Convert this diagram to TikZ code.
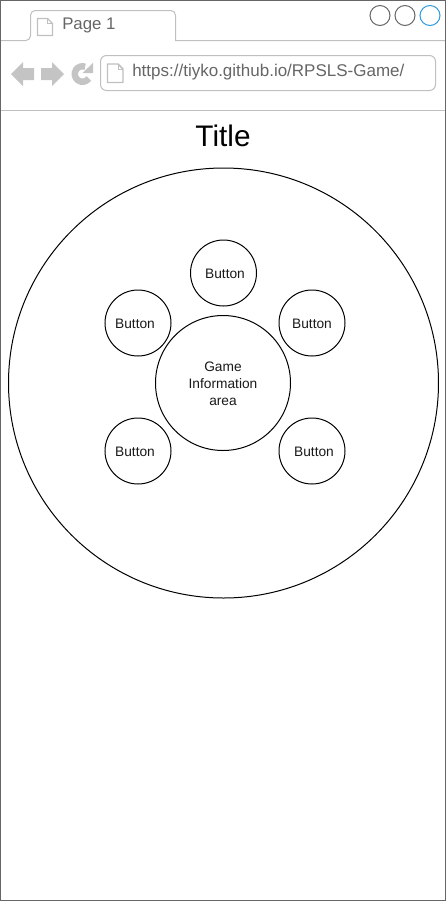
\documentclass[tikz,border=0pt]{standalone}
\usepackage{fontspec}
\setmainfont{Liberation Sans}
\begin{document}
\begin{tikzpicture}[x=0.75pt,y=-0.75pt,
  chrome/.style={draw=chromegray,line width=0.75pt},
  icon/.style={fill=icongray,draw=none},
  page/.style={draw=chromegray,fill=white,line width=0.9pt,line join=round},
  circ/.style={circle,draw=black,line width=0.75pt,inner sep=0pt},
  lab/.style={inner sep=0pt,align=center,font=\fontsize{10.3}{12.75}\selectfont,text=textdark},
  winbtn/.style={circle,draw=wingray,line width=0.75pt,inner sep=0pt,minimum size=15pt},
  chrometext/.style={text=labelgray,inner sep=0pt,anchor=west}]
\definecolor{chromegray}{HTML}{C0C0C0}
\definecolor{icongray}{HTML}{C4C4C4}
\definecolor{labelgray}{HTML}{666666}
\definecolor{wingray}{HTML}{666666}
\definecolor{winblue}{HTML}{2E9BDE}
\definecolor{textdark}{HTML}{1A1A1A}
\useasboundingbox (0,0) rectangle (446,901);
\fill[white] (0,0) rectangle (446,901);
% tab and header lines
\draw[chrome,rounded corners=3.5pt] (0.5,40.5) -- (30.5,40.5) [sharp corners] -- (30.5,25) [rounded corners=3.5pt] -- (30.5,10.5) -- (175.5,10.5) -- (175.5,25) [sharp corners] -- (175.5,40.5) -- (446,40.5);
\draw[chrome] (0.5,110.5) -- (446,110.5);
% tab page icon
\draw[page] (37.5,18.5) -- (47.5,18.5) -- (52.5,23.5) -- (52.5,35.5) -- (37.5,35.5) -- cycle;
\draw[chrome] (47.5,18.5) -- (47.5,23.5) -- (52.5,23.5);
\node[chrometext,font=\fontsize{12.6}{15}\selectfont] (tab) at (62,25) {Page 1};
% window buttons
\node[winbtn] (w1) at (380,15.5) {};
\node[winbtn] (w2) at (405,15.5) {};
\node[winbtn,draw=winblue] (w3) at (430,15.5) {};
% back / forward / reload
\fill[icon] (11,74) -- (23,62) -- (23,68) -- (34,68) -- (34,80) -- (23,80) -- (23,86) -- cycle;
\fill[icon] (64,74) -- (52,62) -- (52,68) -- (41,68) -- (41,80) -- (52,80) -- (52,86) -- cycle;
\draw[icongray,line width=4.8pt] (88.85,78.45) arc[start angle=35,end angle=290,radius=7.75];
\fill[icon] (93,63) -- (93,73) -- (82.5,73) -- cycle;
% address bar
\draw[chrome,rounded corners=4.5pt] (100.5,55.5) rectangle (435.5,90.5);
\draw[page,line width=1.1pt] (107.5,64) -- (118,64) -- (123,69) -- (123,82.5) -- (107.5,82.5) -- cycle;
\draw[chrome] (118,64) -- (118,69) -- (123,69);
\node[chrometext,font=\fontsize{12.75}{15}\selectfont] (url) at (132,72) {https://tiyko.github.io/RPSLS-Game/};
% title
\node[inner sep=0pt,text=black,font=\fontsize{22.3}{25}\selectfont] (title) at (223,136) {Title};
% circles
\node[circ,minimum size=322.5pt] (outer) at (223.5,383) {};
\node[circ,minimum size=101.25pt] (info) at (223,383) {};
\node[circ,minimum size=49.5pt] (b1) at (223.5,273) {};
\node[circ,minimum size=49.5pt] (b2) at (138,323) {};
\node[circ,minimum size=49.5pt] (b3) at (312,323) {};
\node[circ,minimum size=49.5pt] (b4) at (138,451) {};
\node[circ,minimum size=49.5pt] (b5) at (312,451) {};
% labels
\node[lab] (linfo) at (223,383.5) {Game\\Information\\area};
\node[lab] (l1) at (225,273.5) {Button};
\node[lab] (l2) at (135,323.5) {Button};
\node[lab] (l3) at (312,323.5) {Button};
\node[lab] (l4) at (135,451.5) {Button};
\node[lab] (l5) at (314,451.5) {Button};
% window frame
\draw[draw=wingray,line width=0.75pt] (0.5,0.5) rectangle (445.5,900.5);
\end{tikzpicture}
\end{document}
